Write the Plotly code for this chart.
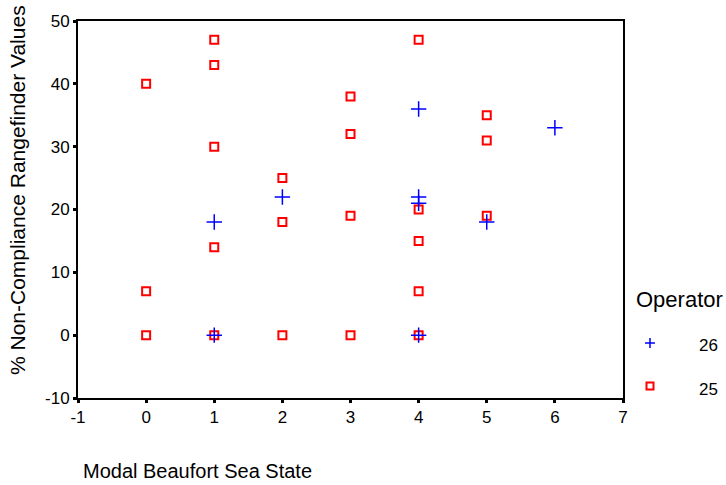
import plotly.graph_objects as go

# Operator 26 (blue plus)
op26_x = [1, 1, 2, 4, 4, 4, 4, 5, 6]
op26_y = [18, 0, 22, 36, 22, 21, 0, 18, 33]

# Operator 25 (red squares)
op25_x = [0, 0, 0, 1, 1, 1, 1, 1, 2, 2, 2, 3, 3, 3, 3, 4, 4, 4, 4, 4, 5, 5, 5]
op25_y = [40, 7, 0, 47, 43, 30, 14, 0, 25, 18, 0, 38, 32, 19, 0, 47, 20, 15, 7, 0, 35, 31, 19]

x_ticks = [-1, 0, 1, 2, 3, 4, 5, 6, 7]
x_tick_text = ["-1", "0", "1", "2", "3", "4", "5", "6", "7"]
y_ticks = [-10, 0, 10, 20, 30, 40, 50]
y_tick_text = ["-10", "0", "10", "20", "30", "40", "50"]

legend_title = "Operator"
legend_labels = ["26", "25"]

FONT = "Liberation Sans, Arial, sans-serif"
W, H = 726, 485
ML, MR, MT, MB = 78, 103, 21, 87
PW, PH = W - ML - MR, H - MT - MB


def px_x(px):
    return (px - ML) / PW


def px_y(py):
    return (H - MB - py) / PH


fig = go.Figure()
fig.add_trace(go.Scatter(
    x=op25_x, y=op25_y, mode="markers", name="25", showlegend=False,
    marker=dict(symbol="square-open", size=8, color="#ff0000", line=dict(width=2, color="#ff0000")),
))
fig.add_trace(go.Scatter(
    x=op26_x, y=op26_y, mode="markers", name="26", showlegend=False,
    marker=dict(symbol="cross-thin", size=11, color="#0000ff", line=dict(width=1.5, color="#0000ff")),
))

axis_common = dict(
    showgrid=False, zeroline=False, showline=True, linecolor="black", linewidth=2,
    mirror=True, ticks="outside", ticklen=3, tickwidth=3, tickcolor="black",
    tickfont=dict(family=FONT, size=17, color="black"),
)

# manual legend symbols (pixel-sized shapes anchored in paper coords)
shapes = [
    dict(type="path", xref="paper", yref="paper", xsizemode="pixel", ysizemode="pixel",
         xanchor=px_x(650), yanchor=px_y(343),
         path="M-5,0 L5,0 M0,-5 L0,5", line=dict(color="#0000ff", width=1.5)),
    dict(type="rect", xref="paper", yref="paper", xsizemode="pixel", ysizemode="pixel",
         xanchor=px_x(650), yanchor=px_y(386),
         x0=-3.5, x1=3.5, y0=-3.5, y1=3.5, line=dict(color="#ff0000", width=2)),
]

annotations = [
    dict(text="% Non-Compliance Rangefinder Values", xref="paper", yref="paper",
         x=px_x(17), y=px_y(190), xanchor="center", yanchor="middle", textangle=-90,
         showarrow=False, font=dict(family=FONT, size=21, color="black")),
    dict(text="Modal Beaufort Sea State", xref="paper", yref="paper",
         x=px_x(81), y=px_y(471), xanchor="left", yanchor="middle",
         showarrow=False, font=dict(family=FONT, size=20, color="black")),
    dict(text=legend_title, xref="paper", yref="paper",
         x=px_x(634), y=px_y(299), xanchor="left", yanchor="middle",
         showarrow=False, font=dict(family=FONT, size=22, color="black")),
    dict(text=legend_labels[0], xref="paper", yref="paper",
         x=px_x(697), y=px_y(345), xanchor="left", yanchor="middle",
         showarrow=False, font=dict(family=FONT, size=17, color="black")),
    dict(text=legend_labels[1], xref="paper", yref="paper",
         x=px_x(697), y=px_y(389), xanchor="left", yanchor="middle",
         showarrow=False, font=dict(family=FONT, size=17, color="black")),
]

fig.update_layout(
    width=W, height=H,
    margin=dict(l=ML, r=MR, t=MT, b=MB),
    paper_bgcolor="white", plot_bgcolor="white",
    font=dict(family=FONT, color="black"),
    xaxis=dict(range=[-1, 7], tickvals=x_ticks, ticktext=x_tick_text, **axis_common),
    yaxis=dict(range=[-10, 50], tickvals=y_ticks, ticktext=y_tick_text, **axis_common),
    showlegend=False,
    shapes=shapes,
    annotations=annotations,
)

fig.write_html("out.html")
